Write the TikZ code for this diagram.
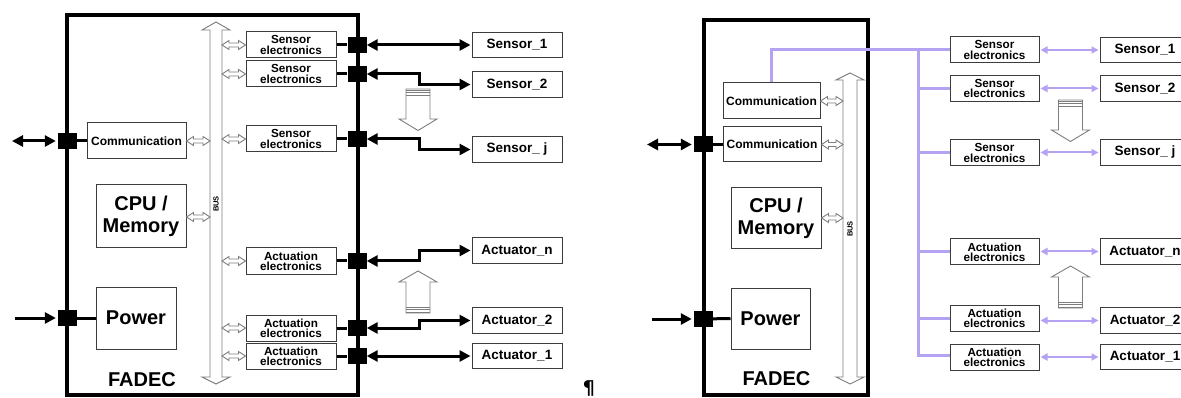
\documentclass[tikz,border=0pt]{standalone}
\usepackage{fontspec}
\setmainfont{Liberation Sans}
\newfontfamily\pilfont{DejaVu Sans}
\usetikzlibrary{arrows.meta,calc}
\definecolor{lav}{RGB}{182,162,242}
\definecolor{hgray}{RGB}{125,125,125}
\definecolor{boxgray}{RGB}{60,60,60}
\newcommand\hharrow[2]{%
  \draw[hollow] let \p1=#1, \p2=#2 in
   (\x1,\y2) -- (\x1+7,\y2+4.5) -- (\x1+7,\y2+2) -- (\x2-7,\y2+2) -- (\x2-7,\y2+4.5) -- (\x2,\y2)
   -- (\x2-7,\y2-4.5) -- (\x2-7,\y2-2) -- (\x1+7,\y2-2) -- (\x1+7,\y2-4.5) -- cycle;}
\newcommand\hdownarr[2]{%
  \draw[hollow] (#1-12,#2) -- (#1+12,#2) -- (#1+12,#2+30) -- (#1+19,#2+30) -- (#1,#2+41.5)
   -- (#1-19,#2+30) -- (#1-12,#2+30) -- cycle;
  \foreach \dd in {1,3.5,6}{\draw[hgray, line width=0.9pt] (#1-12,#2+\dd) -- (#1+12,#2+\dd);}}
\newcommand\huparr[2]{%
  \draw[hollow] (#1-12,#2) -- (#1+12,#2) -- (#1+12,#2-31) -- (#1+19,#2-31) -- (#1,#2-42)
   -- (#1-19,#2-31) -- (#1-12,#2-31) -- cycle;
  \foreach \dd in {1,3.5,6}{\draw[hgray, line width=0.9pt] (#1-12,#2-\dd) -- (#1+12,#2-\dd);}}
\begin{document}
\begin{tikzpicture}[x=1pt,y=-1pt,
 box/.style={draw=boxgray, line width=1pt, fill=white, inner sep=0pt, align=center},
 elbox/.style={box, minimum width=90, minimum height=26, font=\bfseries\fontsize{11.7}{10.3}\selectfont},
 sbox/.style={box, minimum width=90, minimum height=25.5, font=\bfseries\fontsize{13.5}{14}\selectfont},
 combox/.style={box, font=\bfseries\fontsize{12}{14}\selectfont},
 bigbox/.style={box, font=\bfseries\fontsize{20}{22}\selectfont},
 port/.style={fill=black, minimum width=19, minimum height=16, inner sep=0pt},
 frame/.style={draw=black, line width=4pt, inner sep=0pt},
 wire/.style={line width=3pt},
 sig/.style={wire, {Triangle[length=11pt,width=11pt]}-{Triangle[length=11pt,width=11pt]}},
 sigin/.style={wire, -{Triangle[length=11pt,width=11pt]}},
 lavbus/.style={draw=lav, line width=3pt},
 lavarr/.style={draw=lav, line width=2pt, {Triangle[length=7pt,width=7pt]}-{Triangle[length=7pt,width=7pt]}},
 hollow/.style={draw=hgray, line width=0.9pt, fill=white},
 title/.style={font=\bfseries\fontsize{20}{22}\selectfont},
 buslabel/.style={font=\bfseries\fontsize{7.5}{8}\selectfont, rotate=90}
]
\useasboundingbox (0,0) rectangle (1181,398);
\clip (0,0) rectangle (1181,398);

% ================= LEFT =================
\node[frame, minimum width=291, minimum height=380] (fadL) at (212.5,205) {};
\draw[hollow] (216,22) -- (230,30) -- (222,30) -- (222,377) -- (230,377) -- (216,384)
  -- (202,377) -- (210,377) -- (210,30) -- (202,30) -- cycle;
\coordinate (busLr) at (222,0);
\coordinate (busLl) at (210,0);
\node[buslabel] (busLtxt) at (216,204) {BUS};

\node[combox, minimum width=99, minimum height=36] (lcom) at (136.5,141) {Communication};
\node[bigbox, minimum width=90, minimum height=63] (lcpu) at (141,216.5) {CPU /\\Memory};
\node[bigbox, minimum width=80, minimum height=62] (lpow) at (136,318) {Power};
\node[port] (lpc) at (67,141) {};
\node[port] (lpp) at (67,318) {};
\coordinate (lin1) at (12,141);
\coordinate (lin2) at (15,318);
\draw[wire] (lpc) -- (lcom.west);
\draw[wire] (lpp) -- (lpow.west);
\draw[sig, shorten >=1.5pt] (lin1) -- (lpc.west);
\draw[sigin, shorten >=1.5pt] (lin2) -- (lpp.west);
\hharrow{(lcom.east)}{(busLl |- lcom.east)}
\hharrow{(lcpu.east |- 0,217)}{(busLl |- 0,217)}
\node[title] (fadLtxt) at (142,380) {FADEC};

\node[elbox] (le1) at (291,45) {Sensor\\electronics};
\node[elbox] (le2) at (291,74) {Sensor\\electronics};
\node[elbox] (le3) at (291,139) {Sensor\\electronics};
\node[elbox] (la3) at (291,261) {Actuation\\electronics};
\node[elbox] (la2) at (291,328) {Actuation\\electronics};
\node[elbox] (la1) at (291,356) {Actuation\\electronics};
\foreach \bx in {le1,le2,le3,la3,la2,la1}{\hharrow{(busLr |- \bx.west)}{(\bx.west)}}

\node[port] (lq1) at (357,45) {};
\node[port] (lq2) at (357,74) {};
\node[port] (lq3) at (357,139) {};
\node[port] (lqa3) at (357,261) {};
\node[port] (lqa2) at (357,328) {};
\node[port] (lqa1) at (357,356) {};
\draw[wire] (le1) -- (lq1);
\draw[wire] (le2) -- (lq2);
\draw[wire] (le3) -- (lq3);
\draw[wire] (la3) -- (lqa3);
\draw[wire] (la2) -- (lqa2);
\draw[wire] (la1) -- (lqa1);

\node[sbox] (ls1) at (517,45) {Sensor\_1};
\node[sbox] (ls2) at (517,84.5) {Sensor\_2};
\node[sbox] (lsj) at (517,149.5) {Sensor\_ j};
\node[sbox] (lan) at (517,250.5) {Actuator\_n};
\node[sbox] (la2s) at (517,320.5) {Actuator\_2};
\node[sbox] (la1s) at (517,356) {Actuator\_1};
\draw[sig, shorten >=1pt] (lq1.east) -- (ls1.west);
\draw[sig, shorten >=1pt] (lq2.east) -- ++(53,0) |- (ls2.west);
\draw[sig, shorten >=1pt] (lq3.east) -- ++(53,0) |- (lsj.west);
\draw[sig, shorten >=1pt] (lqa3.east) -- ++(53,0) |- (lan.west);
\draw[sig, shorten >=1pt] (lqa2.east) -- ++(53,0) |- (la2s.west);
\draw[sig, shorten >=1pt] (lqa1.east) -- (la1s.west);

\hdownarr{418}{89}
\huparr{418}{313}

\node[font=\pilfont\bfseries\fontsize{19}{19}\selectfont, inner sep=0pt] (pil) at (589,388) {¶};

% ================= RIGHT =================
\node[frame, minimum width=164, minimum height=375] (fadR) at (786,207.5) {};
\draw[hollow] (850,73) -- (864,80) -- (857,80) -- (857,377) -- (864,377) -- (850,384)
  -- (836,377) -- (843,377) -- (843,80) -- (836,80) -- cycle;
\coordinate (busRl) at (843,0);
\node[buslabel] (busRtxt) at (850,229) {BUS};

\node[combox, minimum width=97, minimum height=36] (rc1) at (771.5,101) {Communication};
\node[combox, minimum width=98, minimum height=35] (rc2) at (772,144.5) {Communication};
\node[bigbox, minimum width=90, minimum height=61] (rcpu) at (776,218.5) {CPU /\\Memory};
\node[bigbox, minimum width=79, minimum height=61] (rpow) at (770.5,318.5) {Power};
\node[port] (rpc) at (703,144.5) {};
\node[port] (rpp) at (703,319) {};
\coordinate (rin1) at (647,144.5);
\coordinate (rin2) at (652,319);
\draw[wire] (rpc) -- (rc2.west);
\draw[wire] (rpp) -- (rpow.west);
\draw[sig, shorten >=1.5pt] (rin1) -- (rpc.west);
\draw[sigin, shorten >=1.5pt] (rin2) -- (rpp.west);
\hharrow{(rc1.east)}{(busRl |- rc1.east)}
\hharrow{(rc2.east)}{(busRl |- rc2.east)}
\hharrow{(rcpu.east |- 0,218)}{(busRl |- 0,218)}
\node[title] (fadRtxt) at (776.5,378.5) {FADEC};

\node[elbox, minimum width=89] (re1) at (994.5,50) {Sensor\\electronics};
\node[elbox, minimum width=89] (re2) at (994.5,88.5) {Sensor\\electronics};
\node[elbox, minimum width=89] (re3) at (994.5,153) {Sensor\\electronics};
\node[elbox, minimum width=89] (ra3) at (994.5,252) {Actuation\\electronics};
\node[elbox, minimum width=89] (ra2) at (994.5,318) {Actuation\\electronics};
\node[elbox, minimum width=89] (ra1) at (994.5,357) {Actuation\\electronics};

\coordinate (lavx) at (918,0);
\draw[lavbus] (rc1.north) |- (re1.west);
\draw[lavbus] (lavx |- re1.west) -- (lavx |- 0,355) -- (ra1.west |- 0,355);
\foreach \bx in {re2,re3,ra3,ra2}{\draw[lavbus] (lavx |- \bx.west) -- (\bx.west);}

\node[sbox] (rs1) at (1145,50) {Sensor\_1};
\node[sbox] (rs2) at (1145,88.5) {Sensor\_2};
\node[sbox] (rsj) at (1145,152.5) {Sensor\_ j};
\node[sbox] (ran) at (1145,251.5) {Actuator\_n};
\node[sbox] (ra2s) at (1145,320.5) {Actuator\_2};
\node[sbox] (ra1s) at (1145,357) {Actuator\_1};
\draw[lavarr, shorten <=1pt, shorten >=1pt] (re1.east |- rs1.west) -- (rs1.west);
\draw[lavarr, shorten <=1pt, shorten >=1pt] (re2.east |- rs2.west) -- (rs2.west);
\draw[lavarr, shorten <=1pt, shorten >=1pt] (re3.east |- rsj.west) -- (rsj.west);
\draw[lavarr, shorten <=1pt, shorten >=1pt] (ra3.east |- ran.west) -- (ran.west);
\draw[lavarr, shorten <=1pt, shorten >=1pt] (ra2.east |- ra2s.west) -- (ra2s.west);
\draw[lavarr, shorten <=1pt, shorten >=1pt] (ra1.east |- ra1s.west) -- (ra1s.west);

\hdownarr{1070.5}{100}
\huparr{1070.5}{308}
\end{tikzpicture}
\end{document}
